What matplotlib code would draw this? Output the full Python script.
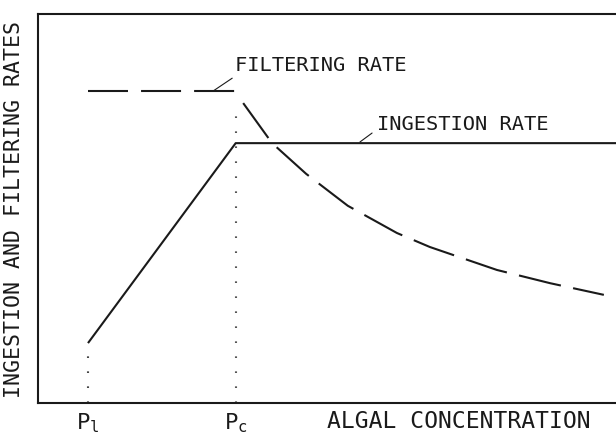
import matplotlib
matplotlib.use("Agg")
import matplotlib.pyplot as plt

plt.rcParams['font.family'] = ['DejaVu Sans Mono']
plt.rcParams['lines.scale_dashes'] = False

# ---- data (arbitrary units) ----
p1 = 0.865          # threshold concentration P1
pc = 3.42           # incipient limiting concentration Pc
x_max = 10.0

ingestion_x = [p1, pc, x_max]
ingestion_y = [1.54, 6.68, 6.68]

filter_flat_x = [p1, pc]
filter_flat_y = [8.02, 8.02]

filter_curve_x = [3.55, 4.05, 4.64, 5.36, 6.21, 6.78, 7.94, 8.86, 9.79]
filter_curve_y = [7.71, 6.68, 5.89, 5.07, 4.37, 4.01, 3.42, 3.08, 2.78]

tick_pos = [p1, pc]
tick_labels = ['P$_\\mathregular{l}$', 'P$_\\mathregular{c}$']

ink = '#1a1a1a'

fig = plt.figure(figsize=(6.16, 4.37), dpi=100)
fig.patch.set_facecolor('white')
ax = fig.add_axes([38/616, 34/437, 578/616, 389/437])
ax.set_xlim(0, x_max)
ax.set_ylim(0, 10)

# ingestion rate (solid)
ax.plot(ingestion_x, ingestion_y, color=ink, lw=1.5, solid_capstyle='butt')

# filtering rate (dashed)
ax.plot(filter_flat_x, filter_flat_y, color=ink, lw=1.5,
        dashes=(28.8, 9.4), dash_capstyle='butt')
ax.plot(filter_curve_x, filter_curve_y, color=ink, lw=1.5,
        dashes=(31, 9), dash_capstyle='butt')

# dotted guides
ax.plot([p1, p1], [0, ingestion_y[0] - 0.3], color='#444444', lw=1.5,
        dashes=(1.2, 9.6), dash_capstyle='butt')
ax.plot([pc, pc], [0, 7.65], color='#555555', lw=1.5,
        dashes=(1.2, 9.6), dash_capstyle='butt')

# curve labels with leader lines
ax.text(3.41, 8.68, 'FILTERING RATE', fontsize=14.7, color=ink,
        ha='left', va='center')
ax.annotate('', xy=(3.03, 8.02), xytext=(3.36, 8.35),
            arrowprops=dict(arrowstyle='-', color=ink, lw=0.8,
                            shrinkA=0, shrinkB=0))
ax.text(5.87, 7.15, 'INGESTION RATE', fontsize=14.7, color=ink,
        ha='left', va='center')
ax.annotate('', xy=(5.57, 6.71), xytext=(5.78, 6.94),
            arrowprops=dict(arrowstyle='-', color=ink, lw=0.8,
                            shrinkA=0, shrinkB=0))

# axes styling
for s in ['left', 'top', 'bottom']:
    ax.spines[s].set_linewidth(1.5)
    ax.spines[s].set_color(ink)
ax.spines['right'].set_visible(False)
ax.set_yticks([])
ax.set_xticks(tick_pos)
ax.set_xticklabels(tick_labels, fontsize=16)
ax.tick_params(axis='x', length=0, pad=6, colors=ink)

fig.text(327/616, 1 - 421/437, 'ALGAL CONCENTRATION', fontsize=16.6,
         color=ink, ha='left', va='center')
fig.text(14/616, 1 - 209/437, 'INGESTION AND FILTERING RATES',
         fontsize=15.5, color=ink, rotation=90, ha='center', va='center')

fig.savefig('out.png', dpi=100, facecolor='white')
